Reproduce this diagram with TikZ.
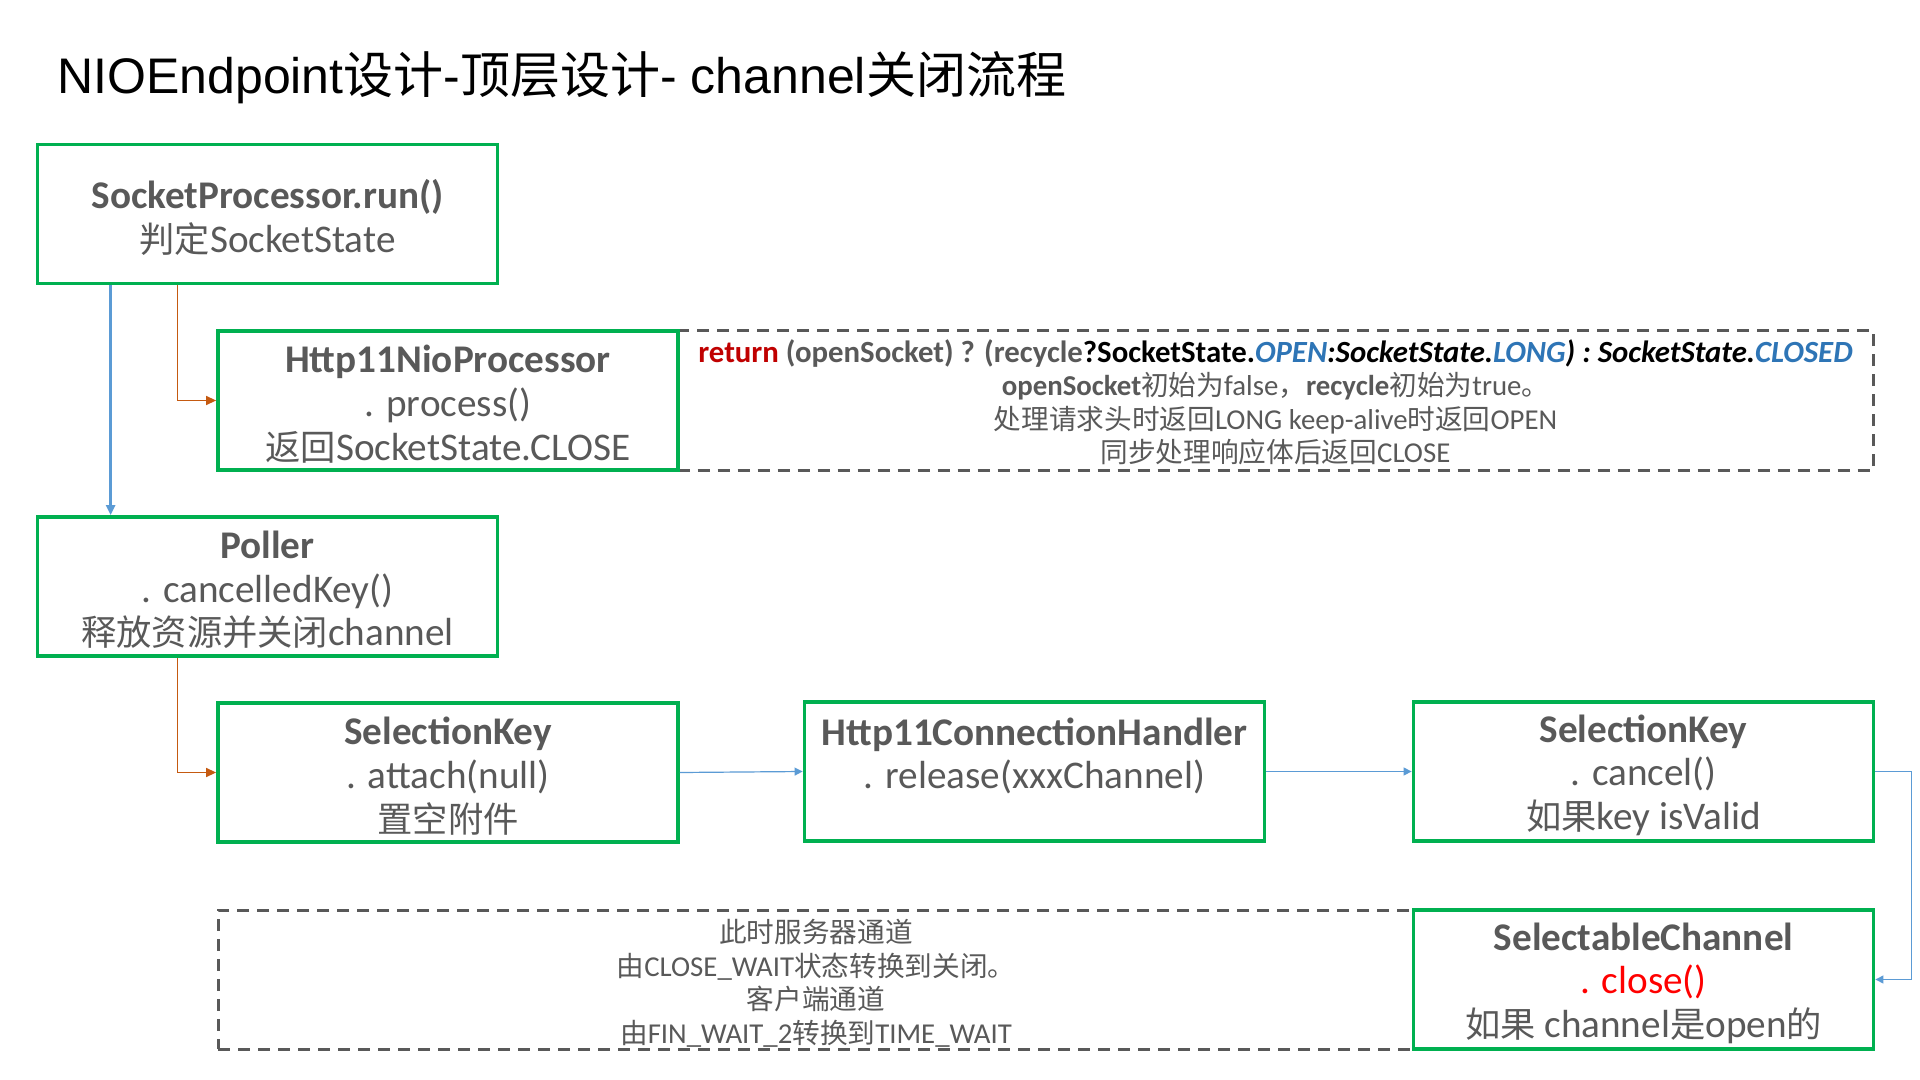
\documentclass[tikz,border=0pt]{standalone}
\usepackage{fontspec}
\setmainfont{Carlito}
\newfontfamily\cjkt{Noto Sans CJK SC}
\newfontfamily\cjkb[Scale=0.9]{Noto Sans CJK SC}
\newfontfamily\cjkn[Scale=0.96]{Noto Sans CJK SC}
\newfontfamily\titlefont{Liberation Sans}
\usetikzlibrary{arrows.meta}
\definecolor{boxgreen}{HTML}{00B050}
\definecolor{txtgrey}{HTML}{595959}
\definecolor{lineblue}{HTML}{5B9BD5}
\definecolor{lineorange}{HTML}{C55A11}
\definecolor{retred}{HTML}{C00000}
\definecolor{kwblue}{HTML}{2E75B6}
\let\cjk\cjkt
\newcommand\zhs[1]{{\cjk #1}}
\begin{document}
\begin{tikzpicture}[x=0.5pt,y=-0.5pt,
  box/.style={draw=boxgreen, line width=1.9pt, fill=white, minimum width=230pt, minimum height=69.5pt, inner sep=0pt},
  boxtext/.style={align=center, inner sep=0pt, text=txtgrey, yshift=-1.8pt, font=\fontsize{19.6}{21.8}\selectfont\let\cjk\cjkb},
  dashbox/.style={draw=txtgrey, line width=1.5pt, dash pattern=on 6pt off 4pt, minimum width=598pt, minimum height=69.5pt, inner sep=0pt},
  notetext/.style={align=center, inner sep=0pt, text=txtgrey, font=\fontsize{14.4}{16.8}\selectfont\let\cjk\cjkn},
  bluethick/.style={draw=lineblue, line width=1.3pt, -{Triangle[length=5pt,width=4.5pt]}},
  bluethin/.style={draw=lineblue, line width=0.6pt, -{Triangle[length=4pt,width=4pt]}},
  orangeline/.style={draw=lineorange, line width=0.7pt, -{Triangle[length=5pt,width=4.5pt]}}]
\useasboundingbox (0,0) rectangle (1920,1080);
\fill[white] (0,0) rectangle (1920,1080);
% title
\node[anchor=base west, inner sep=0pt, font=\titlefont\fontsize{25}{30}\selectfont] (title) at (57,94)
  {NIOEndpoint\zhs{设计}-\zhs{顶层设计}- channel\zhs{关闭流程}};
% dashed notes
\node[dashbox, label={[notetext, yshift=-0.9pt]center:{%
  {\fontsize{15.4}{16.8}\selectfont{\bfseries\color{retred}return} {\bfseries (openSocket) ? (recycle}{\bfseries\color{black}?SocketState.}{\bfseries\itshape\color{kwblue}OPEN}{\bfseries\itshape\color{black}:SocketState.}{\bfseries\itshape\color{kwblue}LONG}{\bfseries\itshape\color{black}) : SocketState.}{\bfseries\itshape\color{kwblue}CLOSED}}\\
  {\bfseries openSocket}\zhs{初始为}false\zhs{，}{\bfseries recycle}\zhs{初始为}true\zhs{。}\\
  \zhs{处理请求头时返回}LONG keep-alive\zhs{时返回}OPEN\\
  \zhs{同步处理响应体后返回}CLOSE}}] (d1) at (1275.5,400.5) {};
\node[dashbox, label={[notetext, yshift=-1.8pt]center:{%
  \zhs{此时服务器通道}\\
  \zhs{由}CLOSE\_WAIT\zhs{状态转换到关闭。}\\
  \zhs{客户端通道}\\
  \zhs{由}FIN\_WAIT\_2\zhs{转换到}TIME\_WAIT}}] (d2) at (816,979.5) {};
% boxes
\node[box, label={[boxtext]center:{{\bfseries SocketProcessor.run()}\\\zhs{判定}SocketState}}] (b1) at (267.5,214) {};
\node[box, label={[boxtext]center:{{\bfseries Http11NioProcessor}\\. process()\\\zhs{返回}SocketState.CLOSE}}] (b2) at (448,400.5) {};
\node[box, label={[boxtext]center:{{\bfseries Poller}\\. cancelledKey()\\\zhs{释放资源并关闭}channel}}] (b3) at (267.5,586.5) {};
\node[box, label={[boxtext]center:{{\bfseries SelectionKey}\\. attach(null)\\\zhs{置空附件}}}] (b4) at (448,772.5) {};
\node[box, label={[boxtext]center:{{\bfseries Http11ConnectionHandler}\\. release(xxxChannel)\\\phantom{X}}}] (b5) at (1034.5,771.5) {};
\node[box, label={[boxtext]center:{{\bfseries SelectionKey}\\. cancel()\\\zhs{如果}key isValid}}] (b6) at (1643.5,771.5) {};
\node[box, label={[boxtext]center:{{\bfseries SelectableChannel}\\{\color{red}. close()}\\\zhs{如果} channel\zhs{是}open\zhs{的}}}] (b7) at (1643.5,979.5) {};
% connectors
\draw[bluethick] ([xshift=37.5pt]b1.south west) -- ([xshift=37.5pt]b3.north west);
\draw[orangeline] ([xshift=71pt]b1.south west) |- (b2.west);
\draw[orangeline] ([xshift=71pt]b3.south west) |- (b4.west);
\draw[bluethin] (b4.east) -- (b5.west);
\draw[bluethin] (b5.east) -- (b6.west);
\draw[bluethin] (b6.east) -- ++(18pt,0) |- (b7.east);
\end{tikzpicture}
\end{document}
